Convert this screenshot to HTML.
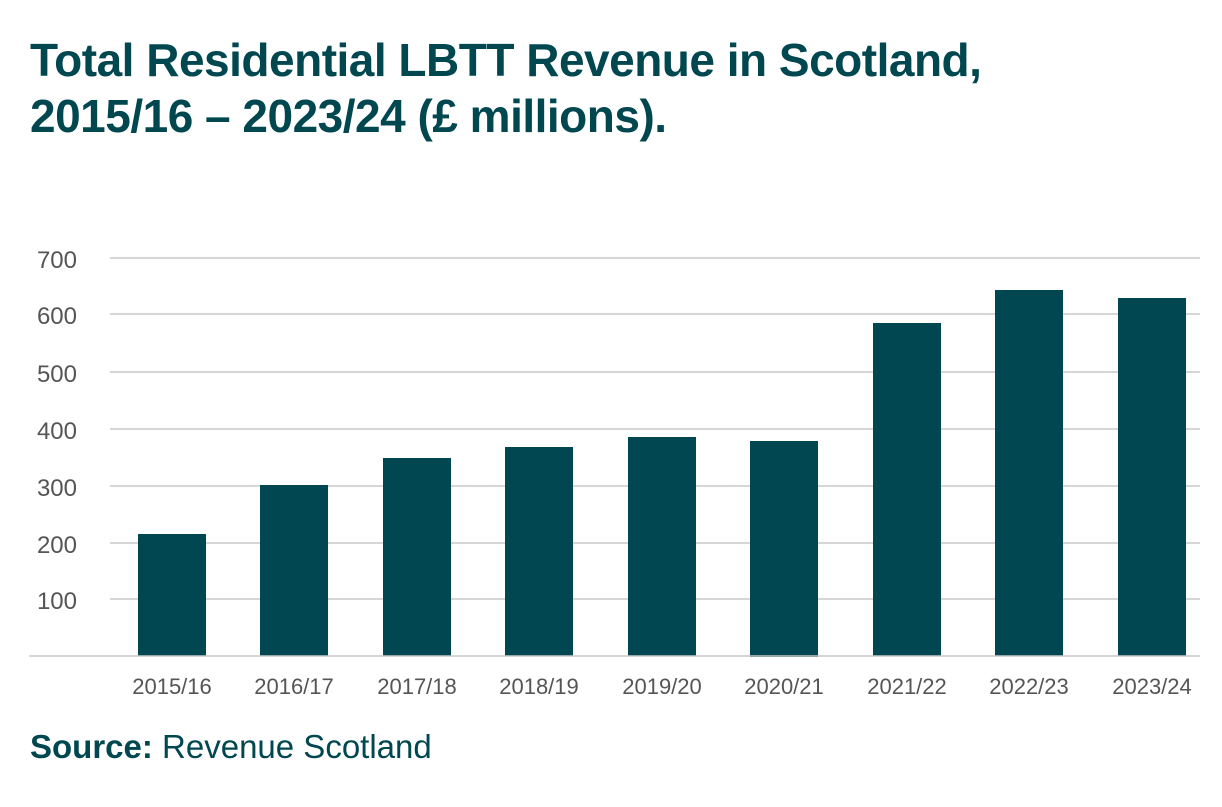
<!DOCTYPE html>
<html><head><style>
body{margin:0;width:1222px;height:807px;background:#fff;overflow:hidden;font-family:"Liberation Sans",sans-serif;}
.t{position:absolute;left:30px;color:#00474f;font-weight:bold;font-size:46px;line-height:56px;top:32px;letter-spacing:-0.5px}
.src{position:absolute;left:30px;top:728px;font-size:33px;color:#00474f}
</style></head><body>
<div class="t">Total Residential LBTT Revenue in Scotland,<br>2015/16 – 2023/24 (£ millions).</div>
<svg width="1222" height="807" style="position:absolute;left:0;top:0">
<g stroke="#c8c8c8" stroke-width="1.5">
<line x1="110" x2="1200" y1="258" y2="258"/><line x1="110" x2="1200" y1="314" y2="314"/>
<line x1="110" x2="1200" y1="372" y2="372"/><line x1="110" x2="1200" y1="429" y2="429"/>
<line x1="110" x2="1200" y1="486" y2="486"/><line x1="110" x2="1200" y1="543" y2="543"/>
<line x1="110" x2="1200" y1="599" y2="599"/>
</g>
<g fill="#555" font-size="24" text-anchor="end" font-family="Liberation Sans,sans-serif">
<text x="77" y="268">700</text><text x="77" y="324">600</text><text x="77" y="382">500</text>
<text x="77" y="439">400</text><text x="77" y="496">300</text><text x="77" y="553">200</text><text x="77" y="609">100</text>
</g>
<g fill="#004751">
<rect x="138" y="534" width="68" height="122"/>
<rect x="260" y="485" width="68" height="171"/>
<rect x="383" y="458" width="68" height="198"/>
<rect x="505" y="447" width="68" height="209"/>
<rect x="628" y="437" width="68" height="219"/>
<rect x="750" y="441" width="68" height="216"/>
<rect x="873" y="323" width="68" height="333"/>
<rect x="995" y="290" width="68" height="366"/>
<rect x="1118" y="298" width="68" height="358"/>
</g>
<line x1="29" x2="1200" y1="656" y2="656" stroke="#c8c8c8" stroke-width="1.5"/>
<g fill="#555" font-size="22" text-anchor="middle" font-family="Liberation Sans,sans-serif">
<text x="172" y="694">2015/16</text><text x="294" y="694">2016/17</text><text x="417" y="694">2017/18</text>
<text x="539" y="694">2018/19</text><text x="662" y="694">2019/20</text><text x="784" y="694">2020/21</text>
<text x="907" y="694">2021/22</text><text x="1029" y="694">2022/23</text><text x="1152" y="694">2023/24</text>
</g>
</svg>
<div class="src"><b>Source:</b> Revenue Scotland</div>
</body></html>
